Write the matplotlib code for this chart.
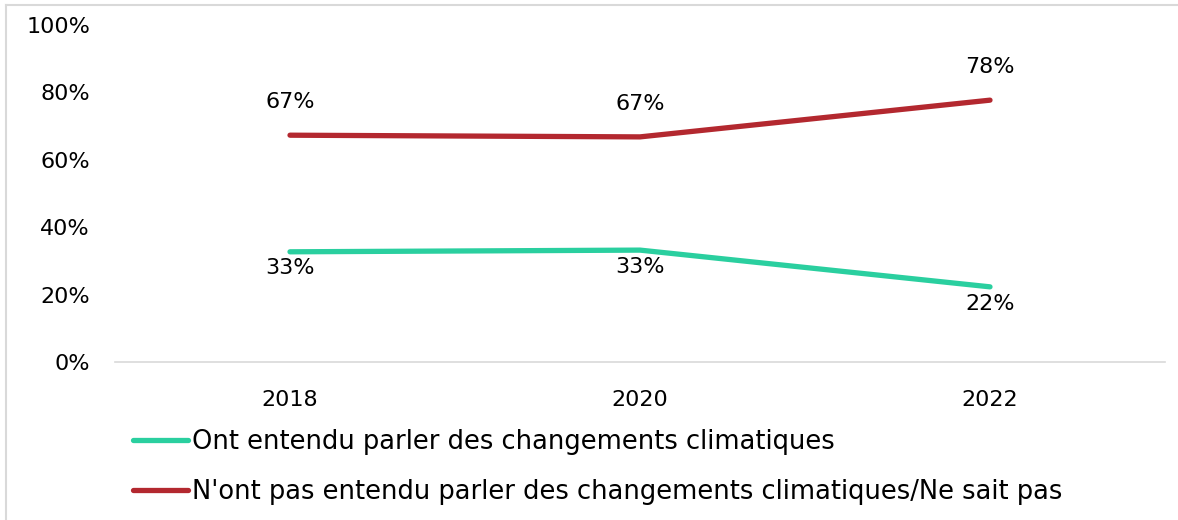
import matplotlib.pyplot as plt
from matplotlib.lines import Line2D

# Data (percent)
years = ['2018', '2020', '2022']
entendu = [32.7, 33.2, 22.3]
pas_entendu = [67.3, 66.8, 77.7]
labels_entendu = ['33%', '33%', '22%']
labels_pas = ['67%', '67%', '78%']
series_names = ['Ont entendu parler des changements climatiques',
                "N'ont pas entendu parler des changements climatiques/Ne sait pas"]

teal = '#2ACF9F'
red = '#B3282F'

plt.rcParams['font.family'] = ['DejaVu Sans']
fig = plt.figure(figsize=(11.78, 5.2), dpi=100)
ax = fig.add_axes([115 / 1178, 1 - 362 / 520, 1050 / 1178, 337 / 520])

x = range(len(years))
ax.plot(x, entendu, color=teal, lw=3.8, solid_capstyle='round', label=series_names[0])
ax.plot(x, pas_entendu, color=red, lw=3.8, solid_capstyle='round', label=series_names[1])

for i in x:
    ax.annotate(labels_pas[i], (i, pas_entendu[i]), xytext=(0, 24), textcoords='offset points',
                ha='center', va='center', fontsize=16)
    ax.annotate(labels_entendu[i], (i, entendu[i]), xytext=(0, -12), textcoords='offset points',
                ha='center', va='center', fontsize=16)

ax.set_xlim(-0.5, 2.5)
ax.set_ylim(0, 100)
ax.set_xticks(list(x))
ax.set_xticklabels(years, fontsize=16)
ax.set_yticks(range(0, 101, 20))
ax.set_yticklabels([f'{v}%' for v in range(0, 101, 20)], fontsize=16)
ax.tick_params(length=0)
ax.tick_params(axis='y', pad=18)
ax.tick_params(axis='x', pad=20)
for s in ['top', 'right', 'left']:
    ax.spines[s].set_visible(False)
ax.spines['bottom'].set_color('#D9D9D9')
ax.spines['bottom'].set_linewidth(1.2)

fig.legend(loc='upper left', bbox_to_anchor=(133 / 1178, 1 - 429 / 520), frameon=False,
           fontsize=18.5, handlelength=2.15, handletextpad=0.16, labelspacing=0.95,
           borderaxespad=0, borderpad=0)

# light border at left and top
fig.add_artist(Line2D([6 / 1178, 6 / 1178], [0, 1 - 5 / 520], transform=fig.transFigure,
                      color='#D9D9D9', lw=1.5))
fig.add_artist(Line2D([6 / 1178, 1], [1 - 5 / 520, 1 - 5 / 520], transform=fig.transFigure,
                      color='#D9D9D9', lw=1.5))

fig.savefig('out.png', dpi=100)
